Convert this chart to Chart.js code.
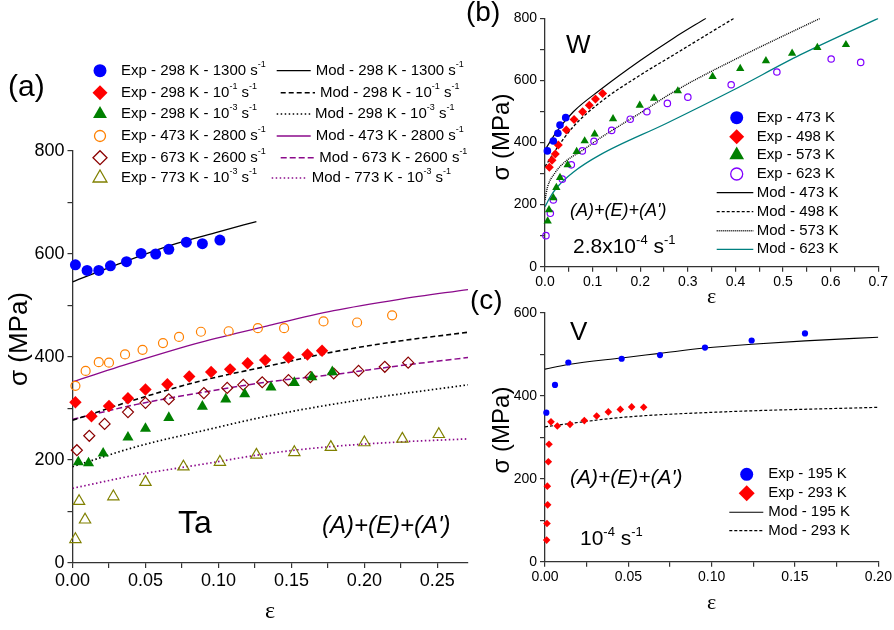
<!DOCTYPE html>
<html>
<head>
<meta charset="utf-8">
<script src="https://cdn.jsdelivr.net/npm/chart.js@4.4.1/dist/chart.umd.min.js"></script>
<style>
  body { margin: 0; background: #fff; }
  #wrap { position: relative; width: 894px; height: 630px; overflow: hidden; }
  canvas { position: absolute; }
</style>
</head>
<body>
<div id="wrap">
  <canvas id="ta" width="490" height="630" style="left:0;top:0"></canvas>
  <canvas id="w" width="434" height="310" style="left:460px;top:0"></canvas>
  <canvas id="v" width="434" height="340" style="left:460px;top:290px"></canvas>
</div>
<script>
const SANS = '"Liberation Sans", Arial, sans-serif';
const SERIF = '"Liberation Serif", "Times New Roman", serif';
const AX = '#333';

// ---- (a) Ta ----
const taLabels = [
  'Exp - 298 K - 1300 s^-1', 'Exp - 298 K - 10^-1 s^-1', 'Exp - 298 K - 10^-3 s^-1',
  'Exp - 473 K - 2800 s^-1', 'Exp - 673 K - 2600 s^-1', 'Exp - 773 K - 10^-3 s^-1',
  'Mod - 298 K - 1300 s^-1', 'Mod - 298 K - 10^-1 s^-1', 'Mod - 298 K - 10^-3 s^-1',
  'Mod - 473 K - 2800 s^-1', 'Mod - 673 K - 2600 s^-1', 'Mod - 773 K - 10^-3 s^-1'
];
const taEps1300 = [0.002, 0.010, 0.018, 0.026, 0.037, 0.047, 0.057, 0.066, 0.078, 0.089, 0.101];
const taSig1300 = [579, 568, 568, 577, 585, 601, 600, 609, 623, 620, 627];
const taEps1e1 = [0.002, 0.013, 0.025, 0.038, 0.050, 0.065, 0.080, 0.095, 0.108, 0.120, 0.132, 0.148, 0.161, 0.171];
const taSig1e1 = [312, 285, 305, 320, 337, 347, 362, 371, 376, 388, 394, 399, 405, 412];
const taEps1e3 = [0.004, 0.011, 0.021, 0.038, 0.050, 0.066, 0.089, 0.105, 0.118, 0.136, 0.152, 0.164, 0.178];
const taSig1e3 = [196, 194, 213, 244, 261, 282, 304, 318, 328, 341, 350, 361, 371];
const taEps2800 = [0.002, 0.009, 0.018, 0.025, 0.036, 0.048, 0.062, 0.073, 0.088, 0.107, 0.127, 0.145, 0.172, 0.195, 0.219];
const taSig2800 = [344, 373, 390, 389, 405, 414, 427, 439, 449, 450, 456, 456, 469, 467, 481];
const taEps2600 = [0.003, 0.0115, 0.022, 0.038, 0.050, 0.066, 0.090, 0.106, 0.117, 0.130, 0.148, 0.163, 0.179, 0.196, 0.214, 0.230];
const taSig2600 = [219, 247, 270, 293, 311, 318, 330, 340, 346, 351, 355, 361, 368, 373, 381, 389];
const taEps773 = [0.002, 0.0045, 0.0086, 0.028, 0.050, 0.076, 0.101, 0.126, 0.152, 0.177, 0.200, 0.226, 0.251];
const taSig773 = [46, 120, 84, 129, 157, 187, 196, 210, 215, 225, 234, 241, 250];

const taModEps1300 = [0, 0.03, 0.066, 0.1, 0.126];
const taModSig1300 = [546, 579, 616, 643, 663];
const taModEps1e1 = [0, 0.044, 0.0885, 0.135, 0.179, 0.224, 0.271];
const taModSig1e1 = [277, 318, 354, 383, 410, 431, 448];
const taModEps1e3 = [0, 0.044, 0.0896, 0.135, 0.2, 0.271];
const taModSig1e3 = [187, 226, 257, 286, 318, 346];
const taModEps2800 = [0, 0.044, 0.087, 0.133, 0.179, 0.224, 0.271];
const taModSig2800 = [352, 392, 428, 460, 490, 512, 531];
const taModEps2600 = [0, 0.044, 0.0885, 0.135, 0.179, 0.224, 0.271];
const taModSig2600 = [279, 308, 331, 352, 366, 383, 399];
const taModEps773 = [0, 0.044, 0.0896, 0.135, 0.177, 0.224, 0.271];
const taModSig773 = [145, 171, 192, 213, 226, 235, 241];

// ---- (b) W ----
const wLabels = ['Exp - 473 K', 'Exp - 498 K', 'Exp - 573 K', 'Exp - 623 K',
                 'Mod - 473 K', 'Mod - 498 K', 'Mod - 573 K', 'Mod - 623 K'];
const wEps473 = [0.005, 0.0175, 0.027, 0.0315, 0.0435];
const wSig473 = [373, 405, 430, 456, 480];
const wEps498 = [0.009, 0.0147, 0.0217, 0.028, 0.0448, 0.061, 0.079, 0.093, 0.106, 0.121];
const wSig498 = [320, 343, 363, 392, 440, 474, 499, 520, 540, 558];
const wEps573 = [0.0056, 0.0084, 0.0175, 0.0238, 0.0315, 0.0476, 0.0665, 0.0833, 0.1043, 0.1429, 0.199, 0.229, 0.279, 0.352, 0.41, 0.464, 0.519, 0.572, 0.632];
const wSig573 = [147, 183, 222, 255, 287, 328, 371, 405, 427, 476, 520, 542, 566, 612, 638, 663, 687, 706, 715];
const wEps623 = [0.002, 0.0112, 0.0175, 0.0364, 0.0553, 0.0784, 0.1029, 0.14, 0.179, 0.214, 0.257, 0.30, 0.391, 0.487, 0.601, 0.663];
const wSig623 = [100, 172, 215, 282, 328, 373, 404, 439, 475, 499, 526, 546, 586, 627, 669, 658];

const wModEps473 = [0, 0.0245, 0.0595, 0.1155, 0.2, 0.27, 0.338];
const wModSig473 = [376, 435, 499, 569, 664, 736, 800];
const wModEps498 = [0, 0.0245, 0.0595, 0.1155, 0.2, 0.27, 0.3676, 0.397];
const wModSig498 = [322, 381, 451, 529, 617, 682, 773, 800];
const wModEps573 = [0, 0.005, 0.02, 0.04, 0.08, 0.1155, 0.2, 0.2766, 0.41, 0.578];
const wModSig573 = [215, 255, 300, 335, 376, 414, 495, 569, 676, 800];
const wModEps623 = [0, 0.01, 0.025, 0.06, 0.1155, 0.2556, 0.3956, 0.5357, 0.7];
const wModSig623 = [193, 222, 255, 305, 360, 462, 569, 682, 800];

// ---- (c) V ----
const vLabels = ['Exp - 195 K', 'Exp - 293 K', 'Mod - 195 K', 'Mod - 293 K'];
const vEps195 = [0.0008, 0.006, 0.014, 0.046, 0.069, 0.096, 0.124, 0.156];
const vSig195 = [359, 426, 480, 489, 498, 516, 533, 550];
const vEps293 = [0.001, 0.0012, 0.0016, 0.0014, 0.002, 0.0024, 0.0036, 0.0074, 0.015, 0.0236, 0.031, 0.038, 0.0452, 0.052, 0.0592];
const vSig293 = [52, 92, 137, 182, 241, 283, 337, 327, 331, 340, 351, 361, 367, 373, 372];
const vModEps195 = [0, 0.014, 0.046, 0.069, 0.096, 0.124, 0.156, 0.2];
const vModSig195 = [464, 475, 491, 502, 515, 524, 532, 541];
const vModEps293 = [0, 0.015, 0.047, 0.107, 0.2];
const vModSig293 = [325, 333, 348, 361, 372];

// ---------- helpers ----------
const pts = (xs, ys) => xs.map((x, i) => ({ x, y: ys[i] }));
const isMult = (v, s) => Math.abs(v / s - Math.round(v / s)) < 1e-6;

function exp(label, xs, ys, style, color, r, filled) {
  return {
    label, data: pts(xs, ys), showLine: false, clip: false,
    pointStyle: style, pointRadius: r, pointHoverRadius: r,
    pointBackgroundColor: filled ? color : 'rgba(0,0,0,0)',
    pointBorderColor: color, pointBorderWidth: filled ? 0 : 1.2,
    _filled: filled, _style: style, _color: color
  };
}
function mod(label, xs, ys, color, dash, w) {
  return {
    label, data: pts(xs, ys), showLine: true, fill: false,
    borderColor: color, borderWidth: w, borderDash: dash,
    pointRadius: 0, pointHoverRadius: 0, cubicInterpolationMode: 'monotone'
  };
}

function axis(max, step, labelStep, dec, size, fit, horizontal) {
  return {
    type: 'linear', min: 0, max,
    ticks: {
      stepSize: step, includeBounds: false, autoSkip: false, maxRotation: 0,
      padding: horizontal ? 2 : 3, color: '#000', font: { family: SANS, size },
      callback: v => isMult(v, labelStep) ? v.toFixed(dec) : ''
    },
    afterBuildTicks: s => { s.ticks = s.ticks.filter(t => isMult(t.value, step)); },
    afterFit: s => { if (horizontal) s.height = fit; else s.width = fit; },
    grid: { drawOnChartArea: false, drawTicks: true, tickLength: 5, color: AX, lineWidth: 1.2 },
    border: { color: AX, width: 1.3 }
  };
}

function shape(ctx, style, x, y, r) {
  ctx.beginPath();
  if (style === 'rectRot') {
    ctx.moveTo(x - r, y); ctx.lineTo(x, y - r); ctx.lineTo(x + r, y); ctx.lineTo(x, y + r);
  } else if (style === 'triangle') {
    for (let k = 0; k < 3; k++) {
      const a = k * 2 * Math.PI / 3;
      ctx.lineTo(x + Math.sin(a) * r, y - Math.cos(a) * r);
    }
  } else {
    ctx.arc(x, y, r, 0, Math.PI * 2);
  }
  ctx.closePath();
}

function rich(ctx, str, x, y, size, o) {
  o = o || {};
  const fam = o.serif ? SERIF : SANS;
  const sty = o.italic ? 'italic ' : '';
  const main = sty + size + 'px ' + fam;
  const sup = sty + Math.round(size * 0.62) + 'px ' + fam;
  const parts = str.split(/(\^-?\d+)/).filter(p => p.length);
  let total = 0;
  const ws = parts.map(p => {
    const s = p[0] === '^';
    ctx.font = s ? sup : main;
    const w = ctx.measureText(s ? p.slice(1) : p).width;
    total += w;
    return w;
  });
  let cx = o.center ? x - total / 2 : x;
  ctx.fillStyle = '#000';
  ctx.textAlign = 'left';
  ctx.textBaseline = o.middle ? 'middle' : 'alphabetic';
  parts.forEach((p, i) => {
    const s = p[0] === '^';
    ctx.font = s ? sup : main;
    ctx.fillText(s ? p.slice(1) : p, cx, y - (s ? size * 0.42 : 0));
    cx += ws[i];
  });
}

const decor = {
  ta: {
    texts: [
      { s: '(a)', x: 8, y: 96, size: 30 },
      { s: 'Ta', x: 178, y: 533, size: 32 },
      { s: "(A)+(E)+(A')", x: 322, y: 533, size: 24, italic: true },
      { s: 'σ (MPa)', x: 20, y: 339, size: 26, rot: true },
      { s: 'ε', x: 270, y: 612, size: 24, serif: true, center: true, middle: true }
    ],
    legend: [
      { ds: 0, y: 70.7, mx: 100, r: 6.5, tx: 121 },
      { ds: 1, y: 92.7, mx: 100, r: 7.5, tx: 121 },
      { ds: 2, y: 114, mx: 100, r: 8, tx: 121 },
      { ds: 3, y: 136, mx: 100, r: 5.5, tx: 121 },
      { ds: 4, y: 157.7, mx: 100, r: 7, tx: 121 },
      { ds: 5, y: 178, mx: 100, r: 8, tx: 121 },
      { ds: 6, y: 70.7, lx0: 276.7, lx1: 310.7, tx: 315.7 },
      { ds: 7, y: 92.7, lx0: 280.7, lx1: 315, tx: 320 },
      { ds: 8, y: 114, lx0: 276.7, lx1: 310.7, tx: 315 },
      { ds: 9, y: 136, lx0: 276.7, lx1: 310.7, tx: 315.7 },
      { ds: 10, y: 157.7, lx0: 280.7, lx1: 315, tx: 319.3 },
      { ds: 11, y: 178, lx0: 271.7, lx1: 306, tx: 311.7 }
    ],
    legendSize: 15
  },
  w: {
    texts: [
      { s: '(b)', x: 6, y: 21, size: 28 },
      { s: 'W', x: 106, y: 53, size: 26 },
      { s: "(A)+(E)+(A')", x: 110, y: 216, size: 18, italic: true },
      { s: '2.8x10^-4 s^-1', x: 113, y: 253, size: 21 },
      { s: 'σ (MPa)', x: 42, y: 137, size: 24, rot: true },
      { s: 'ε', x: 251.7, y: 297, size: 22, serif: true, center: true, middle: true }
    ],
    legend: [
      { ds: 0, y: 117.7, mx: 276.7, r: 6.5, tx: 296.7 },
      { ds: 1, y: 136.7, mx: 276.7, r: 7.5, tx: 296.7 },
      { ds: 2, y: 155, mx: 276.7, r: 8.5, tx: 296.7 },
      { ds: 3, y: 174, mx: 276.7, r: 6, tx: 296.7 },
      { ds: 4, y: 192.7, lx0: 256.7, lx1: 293.3, tx: 296.7 },
      { ds: 5, y: 211.7, lx0: 256.7, lx1: 293.3, tx: 296.7 },
      { ds: 6, y: 230.7, lx0: 256.7, lx1: 293.3, tx: 296.7 },
      { ds: 7, y: 249.3, lx0: 256.7, lx1: 293.3, tx: 296.7 }
    ],
    legendSize: 15
  },
  v: {
    texts: [
      { s: '(c)', x: 10, y: 19, size: 28 },
      { s: 'V', x: 110, y: 50, size: 26 },
      { s: "(A)+(E)+(A')", x: 110, y: 194, size: 21, italic: true },
      { s: '10^-4 s^-1', x: 120, y: 255, size: 21 },
      { s: 'σ (MPa)', x: 42, y: 140, size: 24, rot: true },
      { s: 'ε', x: 251.7, y: 313, size: 22, serif: true, center: true, middle: true }
    ],
    legend: [
      { ds: 0, y: 184.3, mx: 286.7, r: 6.5, tx: 308.3 },
      { ds: 1, y: 203.3, mx: 286.7, r: 8, tx: 308.3 },
      { ds: 2, y: 222.3, lx0: 269.3, lx1: 303.3, tx: 308.3 },
      { ds: 3, y: 240.7, lx0: 269.3, lx1: 303.3, tx: 308.3 }
    ],
    legendSize: 15
  }
};

const decorPlugin = {
  id: 'decor',
  afterDraw(chart) {
    const spec = decor[chart.canvas.id];
    if (!spec) return;
    const ctx = chart.ctx;
    ctx.save();
    spec.legend.forEach(it => {
      const ds = chart.data.datasets[it.ds];
      if (it.mx !== undefined) {
        shape(ctx, ds._style, it.mx, it.y, it.r);
        if (ds._filled) { ctx.fillStyle = ds._color; ctx.fill(); }
        else { ctx.strokeStyle = ds._color; ctx.lineWidth = 1.3; ctx.stroke(); }
      } else {
        ctx.beginPath();
        ctx.setLineDash(ds.borderDash || []);
        ctx.strokeStyle = ds.borderColor;
        ctx.lineWidth = ds.borderWidth;
        ctx.moveTo(it.lx0, it.y); ctx.lineTo(it.lx1, it.y);
        ctx.stroke();
        ctx.setLineDash([]);
      }
      rich(ctx, ds.label, it.tx, it.y, spec.legendSize, { middle: true });
    });
    spec.texts.forEach(t => {
      if (t.rot) {
        ctx.save();
        ctx.translate(t.x, t.y);
        ctx.rotate(-Math.PI / 2);
        rich(ctx, t.s, 0, 0, t.size, { center: true, middle: true });
        ctx.restore();
      } else {
        rich(ctx, t.s, t.x, t.y, t.size, t);
      }
    });
    ctx.restore();
  }
};

function makeChart(id, datasets, xAxis, yAxis, padding) {
  return new Chart(document.getElementById(id), {
    type: 'scatter',
    data: { datasets },
    options: {
      responsive: false, animation: false, events: [],
      layout: { padding },
      plugins: { legend: { display: false }, tooltip: { enabled: false } },
      scales: { x: xAxis, y: yAxis }
    },
    plugins: [decorPlugin]
  });
}

const PURPLE = '#8b0a8b';

makeChart('ta', [
  exp(taLabels[0], taEps1300, taSig1300, 'circle', '#0000ff', 5.5, true),
  exp(taLabels[1], taEps1e1, taSig1e1, 'rectRot', '#ff0000', 6.2, true),
  exp(taLabels[2], taEps1e3, taSig1e3, 'triangle', '#008000', 6.4, true),
  exp(taLabels[3], taEps2800, taSig2800, 'circle', '#ff8000', 4.5, false),
  exp(taLabels[4], taEps2600, taSig2600, 'rectRot', '#8b0000', 5.5, false),
  exp(taLabels[5], taEps773, taSig773, 'triangle', '#808000', 6.5, false),
  mod(taLabels[6], taModEps1300, taModSig1300, '#000', [], 1.3),
  mod(taLabels[7], taModEps1e1, taModSig1e1, '#000', [5, 3], 1.6),
  mod(taLabels[8], taModEps1e3, taModSig1e3, '#000', [1.5, 2.5], 1.7),
  mod(taLabels[9], taModEps2800, taModSig2800, PURPLE, [], 1.3),
  mod(taLabels[10], taModEps2600, taModSig2600, PURPLE, [6, 3], 1.5),
  mod(taLabels[11], taModEps773, taModSig773, PURPLE, [1.5, 2.5], 1.7)
], axis(0.271, 0.025, 0.05, 2, 18, 67, true),
   axis(800, 100, 200, 0, 18, 72.5, false),
   { top: 151, right: 22, left: 0, bottom: 0 });

makeChart('w', [
  exp(wLabels[0], wEps473, wSig473, 'circle', '#0000ff', 3.8, true),
  exp(wLabels[1], wEps498, wSig498, 'rectRot', '#ff0000', 4.5, true),
  exp(wLabels[2], wEps573, wSig573, 'triangle', '#008000', 4.8, true),
  exp(wLabels[3], wEps623, wSig623, 'circle', '#8000ff', 3.2, false),
  mod(wLabels[4], wModEps473, wModSig473, '#000', [], 1.2),
  mod(wLabels[5], wModEps498, wModSig498, '#000', [3, 2], 1.3),
  mod(wLabels[6], wModEps573, wModSig573, '#000', [1, 1], 1.4),
  mod(wLabels[7], wModEps623, wModSig623, '#008080', [], 1.3)
], axis(0.7, 0.05, 0.1, 1, 14, 43.3, true),
   axis(800, 100, 200, 0, 14, 85, false),
   { top: 18.3, right: 15.7, left: 0, bottom: 0 });

makeChart('v', [
  exp(vLabels[0], vEps195, vSig195, 'circle', '#0000ff', 3.1, true),
  exp(vLabels[1], vEps293, vSig293, 'rectRot', '#ff0000', 3.8, true),
  mod(vLabels[2], vModEps195, vModSig195, '#000', [], 1.1),
  mod(vLabels[3], vModEps293, vModSig293, '#000', [3, 2], 1.2)
], axis(0.2, 0.025, 0.05, 2, 14, 68.3, true),
   axis(600, 100, 200, 0, 14, 85, false),
   { top: 22.7, right: 15.7, left: 0, bottom: 0 });
</script>
</body>
</html>
